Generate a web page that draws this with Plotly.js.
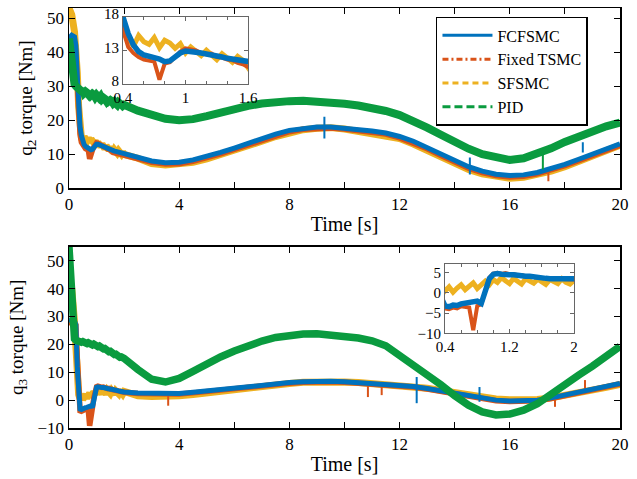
<!DOCTYPE html>
<html><head><meta charset="utf-8">
<script src="https://cdn.plot.ly/plotly-3.0.1.min.js"></script>
<style>html,body{margin:0;padding:0;background:#fff}#chart{width:637px;height:479px}</style>
</head><body><div id="chart"></div>
<script>
// time axis [s]
const t = [0, 0.1, 0.2, 0.25, 0.3, 0.35, 0.4,
  0.45, 0.5, 0.55, 0.6, 0.65, 0.7, 0.75, 0.8, 0.85, 0.9, 0.95, 1.0,
  1.05, 1.1, 1.15, 1.2, 1.25, 1.3, 1.35, 1.4, 1.45, 1.5,
  1.55, 1.6, 1.65, 1.7, 1.75, 1.8, 1.85, 1.9, 1.95, 2.0,
  2.5, 3, 3.5, 4, 4.5, 5, 5.5, 6, 6.5, 7, 7.5, 8, 8.5, 9, 9.5, 10,
  10.5, 11, 11.5, 12, 12.5, 13, 13.5, 14, 14.5, 15, 15.5, 16, 16.5, 17, 17.5, 18, 18.5, 19, 19.5, 20];

// q2 torque [Nm]
const q2_FCFSMC = [44, 45, 44.5, 42, 33, 24, 18,
  15.5, 13.8, 12.8, 12.3, 12.0, 11.9, 11.7, 11.3, 11.4, 12.0, 12.6, 12.9,
  12.9, 12.7, 12.6, 12.5, 12.3, 12.2, 12.0, 11.8, 11.6, 11.4,
  11.2, 11.0, 10.9, 10.8, 10.7, 10.6, 10.5, 10.4, 10.3, 10.2,
  9.0, 8.0, 7.5, 7.6, 8.3, 9.3, 10.5, 11.8, 13.2, 14.6, 15.9, 17.0, 17.6, 18.0, 18.0, 17.7,
  17.3, 16.8, 16.2, 15.2, 13.8, 12.0, 10.0, 8.0, 6.3, 5.0, 4.1, 3.7, 3.9, 4.6, 5.7, 7.0, 8.5, 10.0, 11.5, 13.0];
const q2_FixedTSMC = [43, 44, 43, 40, 31, 22, 16,
  13.5, 12.6, 12.0, 11.6, 11.4, 11.3, 8.6, 11.0, 11.2, 12.0, 12.8, 13.3,
  13.2, 13.0, 12.6, 12.4, 12.5, 12.0, 11.9, 11.6, 11.5, 11.1,
  10.9, 10.5, 10.5, 10.4, 10.3, 10.1, 10.0, 9.9, 9.8, 9.7,
  8.6, 7.6, 7.1, 7.2, 7.9, 8.9, 10.1, 11.4, 12.8, 14.2, 15.5, 16.6, 17.3, 17.7, 17.7, 17.4,
  17.0, 16.5, 15.9, 14.8, 13.4, 11.6, 9.6, 7.6, 5.9, 4.6, 3.7, 3.3, 3.5, 4.2, 5.3, 6.6, 8.1, 9.6, 11.1, 12.6];
const q2_SFSMC = [53, 51, 46, 41, 34, 24, 15.5,
  14.8, 13.6, 15.2, 14.3, 13.9, 14.9, 13.4, 14.5, 14.1, 13.3, 14.0, 12.6,
  13.5, 12.8, 12.2, 13.0, 12.4, 11.6, 12.5, 11.9, 11.2, 12.1,
  11.5, 10.4, 11.3, 10.9, 10.3, 11.0, 10.6, 10.0, 10.7, 9.9,
  8.8, 7.2, 6.8, 7.0, 7.6, 8.6, 9.8, 11.0, 12.4, 13.8, 15.2, 16.4, 17.2, 17.6, 17.8, 17.4,
  16.8, 16.2, 15.6, 14.6, 13.0, 11.2, 9.2, 7.2, 5.5, 4.2, 3.3, 2.9, 3.2, 3.9, 5.0, 6.3, 7.8, 9.4, 11.0, 12.6];
const q2_PID = [44, 36, 30.5, 30, 29.5, 29.3, 29,
  28.6, 29.2, 28.0, 28.4, 28.1, 27.6, 28.3, 27.4, 27.8, 27.5, 26.8, 27.4,
  26.9, 26.5, 27.0, 26.2, 26.6, 26.3, 25.7, 26.4, 25.6, 25.9,
  25.6, 25.0, 25.4, 24.9, 24.5, 25.2, 24.4, 24.6, 24.2, 24.5,
  22.8, 21.5, 20.4, 20.0, 20.3, 21.2, 22.3, 23.3, 24.2, 24.9, 25.4, 25.6, 25.7, 25.5, 25.1, 24.8,
  24.3, 23.6, 22.7, 21.5, 19.8, 17.8, 15.7, 13.5, 11.6, 10.0, 8.9, 8.3, 8.8, 10.0, 11.7, 13.6, 15.3, 16.9, 18.2, 19.3];

// q3 torque [Nm]
const q3_FCFSMC = [28, 29, 28.5, 27, 12, -1, -3.2,
  -3.4, -3.0, -3.1, -2.7, -2.6, -2.4, -2.1, -2.0, -2.6, 0.5, 3.5, 4.6,
  4.8, 4.6, 4.7, 4.5, 4.5, 4.3, 4.3, 4.1, 4.1, 3.9,
  3.9, 3.7, 3.6, 3.5, 3.4, 3.3, 3.2, 3.1, 3.0, 2.9,
  2.6, 2.4, 2.3, 2.4, 2.8, 3.3, 4.0, 4.7, 5.2, 5.6, 6.0, 6.3, 6.6, 6.8, 6.8, 6.6,
  6.3, 6.0, 5.7, 5.5, 4.9, 4.2, 3.3, 2.4, 1.4, 0.6, 0.0, -0.3, -0.3, 0.0, 0.8, 1.8, 2.8, 3.8, 4.9, 6.0];
const q3_FixedTSMC = [27, 28, 27.5, 27, 15, 0, -3.8,
  -4.0, -3.6, -3.8, -3.3, -3.4, -3.6, -9.2, -3.2, -2.8, 0.8, 3.8, 4.8,
  5.0, 4.7, 4.9, 4.6, 4.7, 4.4, 4.4, 4.1, 4.2, 3.9,
  3.9, 3.7, 3.6, 3.5, 3.4, 3.2, 3.2, 3.0, 3.0, 2.8,
  2.4, 2.2, 2.1, 2.2, 2.6, 3.1, 3.8, 4.5, 5.0, 5.4, 5.8, 6.1, 6.4, 6.6, 6.6, 6.4,
  6.1, 5.8, 5.5, 5.3, 4.7, 4.0, 3.1, 2.2, 1.2, 0.4, -0.2, -0.5, -0.5, -0.2, 0.6, 1.6, 2.6, 3.6, 4.7, 5.8];
const q3_SFSMC = [45, 40, 28, 18, 6, 2, 0.5,
  1.5, 0.2, 1.2, 2.0, 0.8, 1.6, 2.5, 1.1, 2.2, 2.9, 2.0, 3.3,
  2.6, 3.8, 3.0, 2.3, 3.6, 2.8, 2.2, 3.5, 3.1, 2.4,
  3.4, 2.7, 2.1, 3.3, 2.9, 2.3, 3.5, 2.6, 2.2, 3.1,
  1.6, 1.3, 1.3, 1.6, 2.0, 2.6, 3.4, 4.1, 4.7, 5.2, 5.6, 6.0, 6.4, 6.6, 6.6, 6.5,
  6.3, 6.0, 5.8, 5.5, 5.0, 4.3, 3.5, 2.7, 1.8, 1.0, 0.4, 0.1, 0.0, 0.2, 0.8, 1.6, 2.6, 3.6, 4.6, 5.6];
const q3_PID = [55, 35, 22, 21.5, 21.2, 21, 21,
  20.8, 21.0, 20.6, 20.8, 20.3, 20.6, 20.1, 20.3, 19.8, 20.1, 19.6, 19.8,
  19.2, 19.4, 18.8, 19.0, 18.4, 18.5, 17.9, 18.0, 17.4, 17.5,
  16.9, 17.0, 16.4, 16.5, 15.9, 16.0, 15.4, 15.5, 14.9, 15.0,
  11.0, 7.5, 6.5, 7.8, 10.3, 13.0, 15.5, 17.6, 19.6, 21.2, 22.5, 23.3, 23.7, 23.8, 23.5, 23.0,
  22.3, 21.3, 19.5, 16.0, 12.6, 9.3, 5.5, 1.6, -1.8, -4.2, -5.3, -5.0, -3.6, -1.3, 2.3, 5.8, 9.0, 12.2, 15.6, 19.3];

// short spikes seen in the signals: time, low end, high end
const q2_FCFSMC_spikeT = [9.27, 14.55, 18.65];
const q2_FCFSMC_spikeLo = [14.6, 4.0, 10.5];
const q2_FCFSMC_spikeHi = [21.0, 9.0, 13.5];
const q2_FixedTSMC_spikeT = [17.4];
const q2_FixedTSMC_spikeLo = [2.0];
const q2_FixedTSMC_spikeHi = [5.5];
const q2_PID_spikeT = [17.2];
const q2_PID_spikeLo = [5.5];
const q2_PID_spikeHi = [10.5];
const q3_FCFSMC_spikeT = [12.62, 14.9];
const q3_FCFSMC_spikeLo = [-1.1, -0.6];
const q3_FCFSMC_spikeHi = [8.3, 4.7];
const q3_FixedTSMC_spikeT = [3.6, 10.85, 11.35, 17.64, 18.73];
const q3_FixedTSMC_spikeLo = [-2.0, 1.1, 1.8, -2.4, 3.5];
const q3_FixedTSMC_spikeHi = [2.3, 6.0, 5.8, 1.2, 7.2];

const names = ['FCFSMC', 'Fixed TSMC', 'SFSMC', 'PID'];
const colors = ['#0072BD', '#D95319', '#EDB120', '#0A9B3F'];
const dashes = ['solid', '6px,3px,2px,3px', '6px,4px', '8px,4px'];

function ln(y, ci, w, xa, ya) {
  return {type: 'scatter', mode: 'lines', x: t, y: y, xaxis: xa, yaxis: ya,
    line: {color: colors[ci], width: w}, showlegend: false, hoverinfo: 'skip'};
}
function spikes(ts, lo, hi, ci, xa, ya) {
  const x = [], y = [];
  ts.forEach((v, i) => { x.push(v, v, null); y.push(lo[i], hi[i], null); });
  return {type: 'scatter', mode: 'lines', x: x, y: y, xaxis: xa, yaxis: ya, connectgaps: false,
    line: {color: colors[ci], width: 2}, showlegend: false, hoverinfo: 'skip'};
}

const traces = [
  // top main
  ln(q2_SFSMC, 2, 7, 'x', 'y'),
  spikes(q2_FixedTSMC_spikeT, q2_FixedTSMC_spikeLo, q2_FixedTSMC_spikeHi, 1, 'x', 'y'),
  ln(q2_FixedTSMC, 1, 5.5, 'x', 'y'),
  spikes(q2_FCFSMC_spikeT, q2_FCFSMC_spikeLo, q2_FCFSMC_spikeHi, 0, 'x', 'y'),
  ln(q2_FCFSMC, 0, 5, 'x', 'y'),
  ln(q2_PID, 3, 8, 'x', 'y'),
  spikes(q2_PID_spikeT, q2_PID_spikeLo, q2_PID_spikeHi, 3, 'x', 'y'),
  // bottom main
  ln(q3_SFSMC, 2, 7, 'x2', 'y2'),
  spikes(q3_FixedTSMC_spikeT, q3_FixedTSMC_spikeLo, q3_FixedTSMC_spikeHi, 1, 'x2', 'y2'),
  ln(q3_FixedTSMC, 1, 5.5, 'x2', 'y2'),
  spikes(q3_FCFSMC_spikeT, q3_FCFSMC_spikeLo, q3_FCFSMC_spikeHi, 0, 'x2', 'y2'),
  ln(q3_FCFSMC, 0, 5, 'x2', 'y2'),
  ln(q3_PID, 3, 7.5, 'x2', 'y2'),
  // top inset
  ln(q2_SFSMC, 2, 5, 'x3', 'y3'),
  ln(q2_FixedTSMC, 1, 4, 'x3', 'y3'),
  ln(q2_FCFSMC, 0, 5.5, 'x3', 'y3'),
  // bottom inset
  ln(q3_SFSMC, 2, 5, 'x4', 'y4'),
  ln(q3_FixedTSMC, 1, 4, 'x4', 'y4'),
  ln(q3_FCFSMC, 0, 5.5, 'x4', 'y4')
];
// legend entries
names.forEach((n, i) => traces.push({type: 'scatter', mode: 'lines', x: [null], y: [null],
  xaxis: 'x', yaxis: 'y', name: n, showlegend: true, hoverinfo: 'skip',
  line: {color: colors[i], width: 3, dash: dashes[i]}}));

const FAM = "'Liberation Serif', 'Times New Roman', serif";
const mainAx = {showline: true, linecolor: '#000', linewidth: 1.5, mirror: 'ticks',
  ticks: 'inside', ticklen: 6, tickwidth: 1, tickcolor: '#000', showgrid: false, zeroline: false,
  tickfont: {family: FAM, size: 17, color: '#000'}};
const insetAx = {showline: true, linecolor: '#666', linewidth: 1, mirror: 'ticks',
  ticks: 'inside', ticklen: 4, tickwidth: 1, tickcolor: '#666', showgrid: false, zeroline: false,
  tickfont: {family: FAM, size: 15, color: '#000'}};

const layout = {
  width: 637, height: 479,
  margin: {l: 69, r: 17, t: 6, b: 51},
  paper_bgcolor: '#fff', plot_bgcolor: '#fff',
  font: {family: FAM, size: 17, color: '#000'},
  showlegend: true,
  legend: {x: 0.666, y: 0.9787, xanchor: 'left', yanchor: 'top', bgcolor: '#fff',
    bordercolor: '#000', borderwidth: 1.5, font: {family: FAM, size: 16, color: '#000'}, itemwidth: 50, traceorder: 'normal'},
  xaxis: Object.assign({}, mainAx, {domain: [0, 1], anchor: 'y', range: [0, 20], tick0: 0, dtick: 4,
    minor: {tick0: 0, dtick: 2, ticks: 'inside', ticklen: 6, tickcolor: '#000'},
    automargin: true,
    title: {text: 'Time [s]', font: {family: FAM, size: 20}, standoff: 4}}),
  yaxis: Object.assign({}, mainAx, {domain: [0.5711, 1], anchor: 'x', range: [0, 53], tick0: 0, dtick: 10,
    automargin: true,
    title: {text: 'q<sub>2</sub> torque [Nm]', font: {family: FAM, size: 19}, standoff: 9}}),
  xaxis2: Object.assign({}, mainAx, {domain: [0, 1], anchor: 'y2', range: [0, 20], tick0: 0, dtick: 4,
    minor: {tick0: 0, dtick: 2, ticks: 'inside', ticklen: 6, tickcolor: '#000'},
    automargin: true,
    title: {text: 'Time [s]', font: {family: FAM, size: 20}, standoff: 4}}),
  yaxis2: Object.assign({}, mainAx, {domain: [0, 0.4313], anchor: 'x2', range: [-10, 55], tick0: -10, dtick: 10,
    automargin: true,
    title: {text: 'q<sub>3</sub> torque [Nm]', font: {family: FAM, size: 19}, standoff: 9}}),
  xaxis3: Object.assign({}, insetAx, {domain: [0.098, 0.325], anchor: 'y3', range: [0.4, 1.6], tick0: 0.4, dtick: 0.6,
    minor: {tick0: 0.4, dtick: 0.2, ticks: 'inside', ticklen: 3, tickcolor: '#666'}}),
  yaxis3: Object.assign({}, insetAx, {domain: [0.8199, 0.9787], anchor: 'x3', range: [8, 18], tick0: 8, dtick: 5,
    ticklabelshift: -3}),
  xaxis4: Object.assign({}, insetAx, {domain: [0.6824, 0.9165], anchor: 'y4', range: [0.4, 2], tick0: 0.4, dtick: 0.8,
    minor: {tick0: 0.4, dtick: 0.2, ticks: 'inside', ticklen: 3, tickcolor: '#666'}}),
  yaxis4: Object.assign({}, insetAx, {domain: [0.2251, 0.391], anchor: 'x4', range: [-10, 7.2], tick0: -10, dtick: 5})
};

Plotly.newPlot('chart', traces, layout, {displayModeBar: false, staticPlot: true});
</script>
</body></html>
